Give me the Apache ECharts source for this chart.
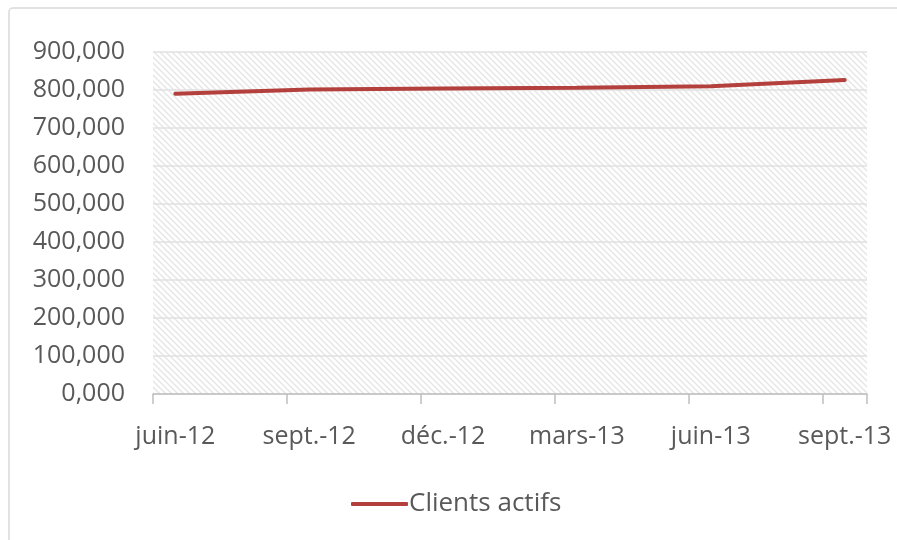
<!DOCTYPE html>
<html>
<head>
<meta charset="utf-8">
<script src="https://cdn.jsdelivr.net/npm/echarts@6/dist/echarts.min.js"></script>
<style>
    html, body { margin: 0; padding: 0; background: #fff; }
    #chart { width: 897px; height: 540px; }
</style>
</head>
<body>
<div id="chart"></div>
<script>
// mois (axe date, un point par trimestre)
const months = ['juin-12', 'juil.-12', 'août-12', 'sept.-12', 'oct.-12', 'nov.-12', 'déc.-12',
    'janv.-13', 'févr.-13', 'mars-13', 'avr.-13', 'mai-13', 'juin-13', 'juil.-13', 'août-13', 'sept.-13']
const clientsActifs = [790, null, null, 801, null, null, 804, null, null, 806, null, null, 810, null, null, 826]
const yTicks = [0, 100, 200, 300, 400, 500, 600, 700, 800, 900]

// hachures du fond
function hatch() {
    const c = document.createElement('canvas')
    c.width = 6
    c.height = 6
    const ctx = c.getContext('2d')
    ctx.fillStyle = '#ffffff'
    ctx.fillRect(0, 0, 6, 6)
    ctx.strokeStyle = '#e6e6e6'
    ctx.lineWidth = 1.5
    ctx.beginPath()
    ctx.moveTo(-1, -1); ctx.lineTo(7, 7)
    ctx.moveTo(-4, 2); ctx.lineTo(4, 10)
    ctx.moveTo(2, -4); ctx.lineTo(10, 4)
    ctx.stroke()
    return c
}

const chart = echarts.init(document.getElementById('chart'))
const font = "'Open Sans', 'Liberation Sans', sans-serif"
const everyQuarter = (i) => i % 3 === 0

chart.setOption({
    animation: false,
    textStyle: { fontFamily: font },
    graphic: [{
        type: 'rect',
        shape: { x: 9, y: 8, width: 1000, height: 600, r: 4 },
        style: { fill: 'none', stroke: '#d9d9d9', lineWidth: 1.5 },
        z: -10
    }],
    grid: {
        left: 153,
        right: 30,
        top: 52,
        bottom: 146,
        show: true,
        borderWidth: 0,
        backgroundColor: { image: hatch(), repeat: 'repeat' }
    },
    legend: {
        top: 486,
        left: 346,
        itemWidth: 57,
        itemHeight: 4,
        itemGap: 4,
        icon: 'roundRect',
        textStyle: { fontSize: 26, color: '#595959', fontFamily: font, padding: [0, 0, 0, -4] },
        data: ['Clients actifs']
    },
    xAxis: {
        type: 'category',
        data: months,
        boundaryGap: true,
        axisLine: { lineStyle: { color: '#bfbfbf', width: 1.5 } },
        axisTick: { show: true, interval: everyQuarter, length: 10, lineStyle: { color: '#bfbfbf', width: 1.5 } },
        axisLabel: {
            interval: everyQuarter,
            margin: 30,
            fontSize: 25,
            color: '#595959',
            fontFamily: font
        },
        splitLine: { show: false }
    },
    yAxis: {
        type: 'value',
        min: yTicks[0],
        max: yTicks[yTicks.length - 1],
        interval: 100,
        axisLine: { show: false },
        axisTick: { show: false },
        axisLabel: {
            margin: 28,
            fontSize: 25,
            color: '#595959',
            fontFamily: font,
            formatter: v => v.toFixed(3).replace('.', ',')
        },
        splitLine: { lineStyle: { color: '#e0e0e0', width: 1.5 } }
    },
    series: [{
        name: 'Clients actifs',
        type: 'line',
        data: clientsActifs,
        connectNulls: true,
        showSymbol: false,
        symbol: 'none',
        itemStyle: { color: '#b3403d' },
        lineStyle: { color: '#b3403d', width: 4, cap: 'round' }
    }]
})
</script>
</body>
</html>
